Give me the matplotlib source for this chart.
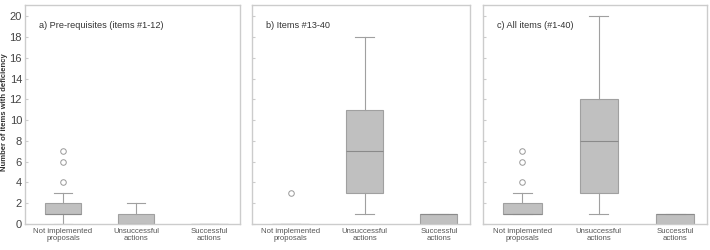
import matplotlib.pyplot as plt

plt.rcParams['font.family'] = ['Liberation Sans', 'DejaVu Sans']

categories = ["Not implemented\nproposals", "Unsuccessful\nactions", "Successful\nactions"]
panel_titles = ["a) Pre-requisites (items #1-12)", "b) Items #13-40", "c) All items (#1-40)"]

# box statistics, one list per panel (3 categories each)
q1 = [[1, 0, 0], [0, 3, 0], [1, 3, 0]]
med = [[1, 0, 0], [0, 7, 1], [1, 8, 1]]
q3 = [[2, 1, 0], [0, 11, 1], [2, 12, 1]]
whislo = [[0, 0, 0], [0, 1, 0], [1, 1, 0]]
whishi = [[3, 2, 0], [0, 18, 1], [3, 20, 1]]
fliers = [[[4, 6, 7], [], []], [[3], [], []], [[4, 6, 7], [], []]]

yticks = [0, 2, 4, 6, 8, 10, 12, 14, 16, 18, 20]

fig = plt.figure(figsize=(7.1, 2.5), dpi=100)
rects = [[0.035, 0.104, 0.303, 0.876],
         [0.355, 0.104, 0.307, 0.876],
         [0.680, 0.104, 0.316, 0.876]]

edge = "#a0a0a0"
for p, r in enumerate(rects):
    ax = fig.add_axes(r)
    stats = []
    for i in range(3):
        stats.append(dict(q1=q1[p][i], med=med[p][i], q3=q3[p][i],
                          whislo=whislo[p][i], whishi=whishi[p][i],
                          fliers=fliers[p][i]))
    ax.bxp(stats, positions=[1, 2, 3], widths=0.5, patch_artist=True,
           boxprops=dict(facecolor="#c0c0c0", edgecolor=edge, linewidth=0.8),
           medianprops=dict(color="#8a8a8a", linewidth=0.8),
           whiskerprops=dict(color=edge, linewidth=0.8),
           capprops=dict(color=edge, linewidth=0.8),
           flierprops=dict(marker="o", markerfacecolor="white",
                           markeredgecolor="#999999", markersize=4, markeredgewidth=0.7))
    ax.set_xlim(0.48, 3.42)
    ax.set_ylim(0, 21.1)
    ax.set_yticks(yticks)
    ax.set_xticks([1, 2, 3])
    ax.set_xticklabels(categories, fontsize=5.6, color="#555555", linespacing=1.05)
    ax.tick_params(axis="x", length=0, pad=3)
    ax.tick_params(axis="y", direction="in", length=2, color="#cccccc",
                   labelsize=8, labelcolor="#444444", pad=2)
    if p > 0:
        ax.set_yticklabels([])
    for s in ax.spines.values():
        s.set_color("#cccccc")
        s.set_linewidth(1.0)
    ax.text(0.065, 0.905, panel_titles[p], transform=ax.transAxes,
            fontsize=6.6, color="#333333", va="center")

fig.text(0.007, 0.55, "Number of items with deficiency", rotation=90,
         fontsize=5.5, fontweight="bold", color="#333333", ha="center", va="center")

fig.savefig("out.png", dpi=100)
